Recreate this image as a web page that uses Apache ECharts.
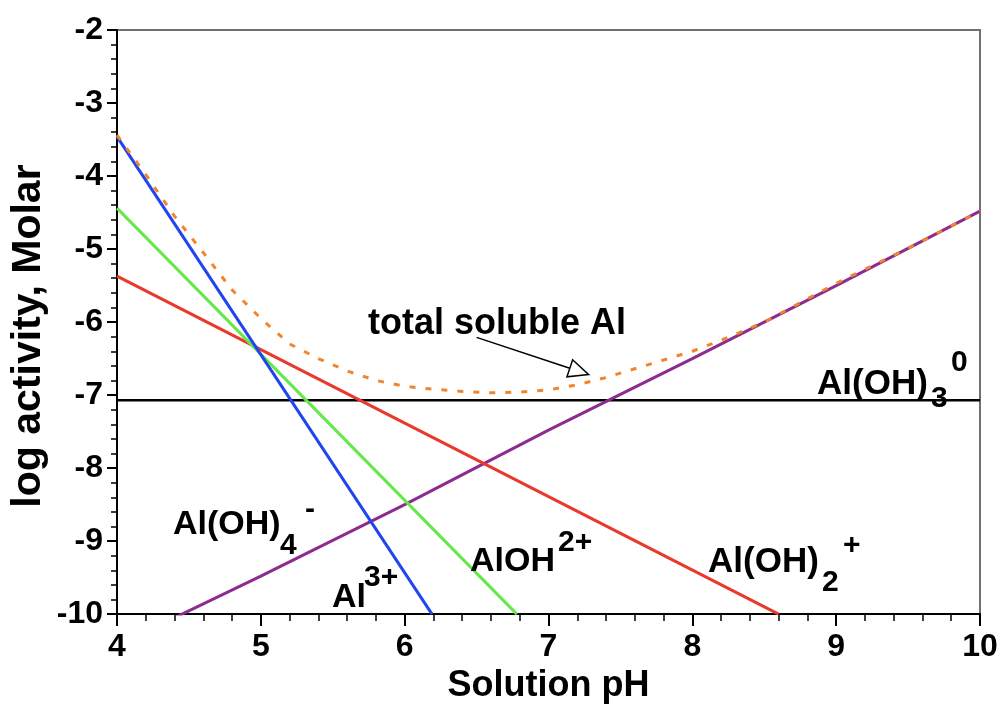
<!DOCTYPE html>
<html>
<head>
<meta charset="utf-8">
<script src="https://cdn.jsdelivr.net/npm/echarts@6/dist/echarts.min.js"></script>
<style>
html,body{margin:0;padding:0;background:#fff;}
#chart{width:1002px;height:709px;}
</style>
</head>
<body>
<div id="chart"></div>
<script>
// ---- data ----
var xTicks = [4, 5, 6, 7, 8, 9, 10];
var yTicks = [-2, -3, -4, -5, -6, -7, -8, -9, -10];

var al3 = [[4.0, -3.46], [6.19, -10.0]];
var aloh2 = [[4.0, -4.44], [6.78, -10.0]];
var aloh2p = [[4.0, -5.37], [8.6, -10.0]];
var aloh3 = [[4.0, -7.07], [10.0, -7.07]];
var aloh4 = [[4.4, -10.05], [5.0, -9.48], [6.0, -8.5], [7.0, -7.48], [8.0, -6.5], [9.0, -5.5], [10.0, -4.48]];
var totalAl = [[4.0, -3.44], [4.2, -3.98], [4.4, -4.55], [4.6, -5.05], [4.8, -5.56], [5.0, -5.95],
  [5.2, -6.3], [5.4, -6.5], [5.6, -6.67], [5.8, -6.8], [6.0, -6.88], [6.2, -6.92], [6.4, -6.95],
  [6.6, -6.97], [6.8, -6.96], [7.0, -6.93], [7.2, -6.86], [7.4, -6.76], [7.6, -6.64], [7.8, -6.52],
  [8.0, -6.4], [8.2, -6.25], [8.5, -6.0], [9.0, -5.47], [9.5, -4.99], [10.0, -4.48]];

var xName = 'Solution pH';
var yName = 'log activity, Molar';

// ---- chart ----
var FONT = '"Liberation Sans", Arial, sans-serif';
var chart = echarts.init(document.getElementById('chart'), null, {renderer: 'canvas'});

function ln(name, data, color, extra) {
  var s = {
    name: name, type: 'line', data: data, showSymbol: false, symbol: 'none',
    lineStyle: {color: color, width: 3}, itemStyle: {color: color},
    clip: true, silent: true, z: 3
  };
  for (var k in extra) s[k] = extra[k];
  return s;
}

var option = {
  animation: false,
  backgroundColor: '#fff',
  grid: {left: 117, right: 22, top: 30, bottom: 94, show: true, borderColor: '#707070', borderWidth: 2, backgroundColor: 'transparent'},
  xAxis: {
    type: 'value', min: xTicks[0], max: xTicks[xTicks.length - 1], interval: 1,
    name: xName, nameLocation: 'middle', nameGap: 46,
    nameTextStyle: {fontFamily: FONT, fontWeight: 'bold', fontSize: 36, color: '#000'},
    axisLine: {show: true, onZero: false, lineStyle: {color: '#000', width: 2}},
    axisTick: {show: true, length: 12, lineStyle: {color: '#000', width: 2}},
    minorTick: {show: true, splitNumber: 5, length: 7, lineStyle: {color: '#000', width: 1.5}},
    splitLine: {show: false},
    axisLabel: {fontFamily: FONT, fontWeight: 'bold', fontSize: 32, color: '#000', margin: 17}
  },
  yAxis: {
    type: 'value', min: yTicks[yTicks.length - 1], max: yTicks[0], interval: 1,
    axisLine: {show: true, onZero: false, lineStyle: {color: '#000', width: 2}},
    axisTick: {show: true, length: 10, lineStyle: {color: '#000', width: 2}},
    minorTick: {show: true, splitNumber: 5, length: 6, lineStyle: {color: '#000', width: 1.5}},
    splitLine: {show: false},
    axisLabel: {fontFamily: FONT, fontWeight: 'bold', fontSize: 32, color: '#000', margin: 14}
  },
  series: [
    ln('Al(OH)3', aloh3, '#000000', {lineStyle: {color: '#000', width: 2.5}}),
    ln('Al(OH)4-', aloh4, '#8B2C8E'),
    ln('Al(OH)2+', aloh2p, '#E8392B'),
    ln('AlOH2+', aloh2, '#66E84A'),
    ln('Al3+', al3, '#2244F0'),
    ln('total soluble Al', totalAl, '#F0852F', {lineStyle: {color: '#F0852F', width: 3, type: [6, 10]}, z: 4})
  ]
};
chart.setOption(option);

// ---- annotations ----
function t(txt, x, y, size) {
  return {type: 'text', z: 10, silent: true,
    style: {text: txt, x: x, y: y, fill: '#000', font: 'bold ' + size + 'px ' + FONT, textAlign: 'left', textVerticalAlign: 'middle'}};
}
var labels = [
  {type: 'text', z: 10, silent: true, x: 29, y: 336, rotation: Math.PI / 2,
    style: {text: yName, x: 0, y: 0, fill: '#000', font: 'bold 41px ' + FONT, textAlign: 'center', textVerticalAlign: 'middle'}},
  t('total soluble Al', 368, 324, 36),
  t('Al(OH)', 817, 384, 35), t('3', 931, 399, 30), t('0', 951, 363, 30),
  t('Al(OH)', 173, 525, 34), t('4', 280, 546, 30), t('-', 305, 510, 30),
  t('Al', 332, 598, 34), t('3+', 364, 578, 30),
  t('AlOH', 470, 562, 34), t('2+', 558, 543, 30),
  t('Al(OH)', 708, 562, 35), t('2', 822, 583, 30), t('+', 843, 546, 30)
];

// arrow from label to total curve (data coordinates)
var tail = chart.convertToPixel({gridIndex: 0}, [6.5, -6.21]);
var tip = chart.convertToPixel({gridIndex: 0}, [7.28, -6.72]);
var dx = tip[0] - tail[0], dy = tip[1] - tail[1];
var L = Math.sqrt(dx * dx + dy * dy), ux = dx / L, uy = dy / L;
var hl = 20, hw = 9;
var bx = tip[0] - ux * hl, by = tip[1] - uy * hl;
labels.push({type: 'line', z: 10, silent: true,
  shape: {x1: tail[0], y1: tail[1], x2: bx, y2: by}, style: {stroke: '#000', lineWidth: 1.5}});
labels.push({type: 'polygon', z: 10, silent: true,
  shape: {points: [[tip[0], tip[1]], [bx - uy * hw, by + ux * hw], [bx + uy * hw, by - ux * hw]]},
  style: {fill: '#fff', stroke: '#000', lineWidth: 1.5}});

chart.setOption({graphic: labels});
</script>
</body>
</html>
